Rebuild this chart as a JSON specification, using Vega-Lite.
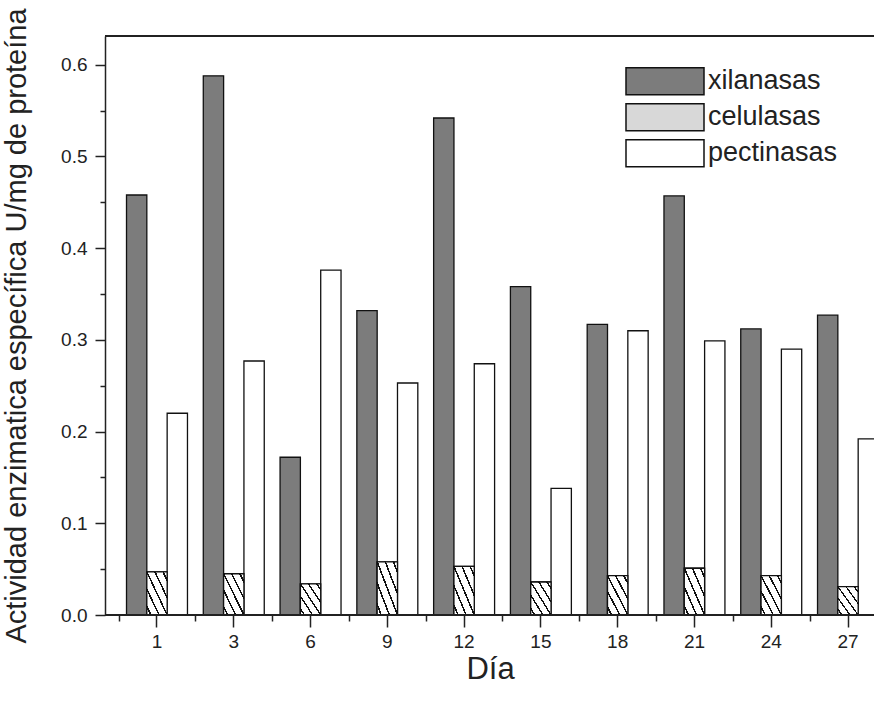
{
  "$schema": "https://vega.github.io/schema/vega-lite/v6.json",
  "width": 769,
  "height": 579,
  "autosize": "none",
  "padding": {"left": 105, "top": 36, "right": 0, "bottom": 86},
  "background": "white",
  "config": {
    "view": {"stroke": null},
    "font": "Liberation Sans",
    "axis": {"labelColor": "#222", "titleColor": "#222", "tickColor": "#222", "domainColor": "#222", "labelFont": "Liberation Sans", "titleFont": "Liberation Sans", "titleFontWeight": "normal", "grid": false}
  },
  "data": {
    "values": [
      {"day": 1, "enzyme": "xilanasas", "value": 0.458},
      {"day": 1, "enzyme": "celulasas", "value": 0.047},
      {"day": 1, "enzyme": "pectinasas", "value": 0.220},
      {"day": 3, "enzyme": "xilanasas", "value": 0.588},
      {"day": 3, "enzyme": "celulasas", "value": 0.045},
      {"day": 3, "enzyme": "pectinasas", "value": 0.277},
      {"day": 6, "enzyme": "xilanasas", "value": 0.172},
      {"day": 6, "enzyme": "celulasas", "value": 0.034},
      {"day": 6, "enzyme": "pectinasas", "value": 0.376},
      {"day": 9, "enzyme": "xilanasas", "value": 0.332},
      {"day": 9, "enzyme": "celulasas", "value": 0.058},
      {"day": 9, "enzyme": "pectinasas", "value": 0.253},
      {"day": 12, "enzyme": "xilanasas", "value": 0.542},
      {"day": 12, "enzyme": "celulasas", "value": 0.053},
      {"day": 12, "enzyme": "pectinasas", "value": 0.274},
      {"day": 15, "enzyme": "xilanasas", "value": 0.358},
      {"day": 15, "enzyme": "celulasas", "value": 0.036},
      {"day": 15, "enzyme": "pectinasas", "value": 0.138},
      {"day": 18, "enzyme": "xilanasas", "value": 0.317},
      {"day": 18, "enzyme": "celulasas", "value": 0.043},
      {"day": 18, "enzyme": "pectinasas", "value": 0.310},
      {"day": 21, "enzyme": "xilanasas", "value": 0.457},
      {"day": 21, "enzyme": "celulasas", "value": 0.051},
      {"day": 21, "enzyme": "pectinasas", "value": 0.299},
      {"day": 24, "enzyme": "xilanasas", "value": 0.312},
      {"day": 24, "enzyme": "celulasas", "value": 0.043},
      {"day": 24, "enzyme": "pectinasas", "value": 0.290},
      {"day": 27, "enzyme": "xilanasas", "value": 0.327},
      {"day": 27, "enzyme": "celulasas", "value": 0.031},
      {"day": 27, "enzyme": "pectinasas", "value": 0.192}
    ]
  },
  "layer": [
    {
      "mark": {"type": "bar", "stroke": "#111", "strokeWidth": 1.3, "clip": true},
      "encoding": {
        "x": {
          "field": "day", "type": "ordinal",
          "scale": {"range": [13.6, 781.4], "paddingInner": 0.206, "paddingOuter": 0.103},
          "axis": {"orient": "bottom", "title": "Día", "titleFontSize": 31, "titlePadding": 3, "titleX": 385, "labelFontSize": 19, "labelAngle": 0, "labelPadding": 5, "tickSize": 12, "tickWidth": 1.5, "domain": false}
        },
        "xOffset": {
          "field": "enzyme", "type": "nominal",
          "sort": ["xilanasas", "celulasas", "pectinasas"],
          "scale": {"paddingInner": 0, "paddingOuter": 0}
        },
        "y": {
          "field": "value", "type": "quantitative",
          "scale": {"domain": [0, 0.6314], "nice": false},
          "axis": {
            "title": "Actividad enzimatica específica U/mg de proteína",
            "titleFontSize": 29, "titlePadding": 29,
            "values": [0, 0.05, 0.1, 0.15, 0.2, 0.25, 0.3, 0.35, 0.4, 0.45, 0.5, 0.55, 0.6],
            "labelExpr": "round(datum.value*100) % 10 == 0 ? format(datum.value, '.1f') : ''",
            "labelFontSize": 19, "labelPadding": 8,
            "tickSize": {"expr": "round(datum.value*100) % 10 == 0 ? 10 : 5"},
            "tickWidth": 1.5, "domainWidth": 1.5
          }
        },
        "fill": {
          "field": "enzyme", "type": "nominal",
          "sort": ["xilanasas", "celulasas", "pectinasas"],
          "scale": {
            "domain": ["xilanasas", "celulasas", "pectinasas"],
            "range": ["#7c7c7c", "#d8d8d8", "#ffffff"]
          },
          "legend": {
            "orient": "none", "legendX": 545.5, "legendY": 30.7, "title": null,
            "symbolType": "M-2.889,-1H2.889V1H-2.889Z", "symbolSize": 729,
            "symbolStrokeColor": "#111", "symbolStrokeWidth": 1.5, "symbolOpacity": 1,
            "labelFontSize": 27, "labelFont": "Liberation Sans", "labelColor": "#222", "labelOffset": 28.5, "rowPadding": 3
          }
        }
      }
    },
    {
      "transform": [{"filter": "datum.enzyme == 'celulasas'"}],
      "mark": {"type": "bar", "stroke": "#111", "strokeWidth": 1.3, "clip": true,
        "fill": {"gradient": "linear", "x1": 0, "y1": 1, "x2": 1, "y2": 0, "stops": [
          {"offset": 0, "color": "#ffffff"},
          {"offset": 0.08, "color": "#ffffff"}, {"offset": 0.08, "color": "#111111"}, {"offset": 0.12, "color": "#111111"}, {"offset": 0.12, "color": "#ffffff"},
          {"offset": 0.28, "color": "#ffffff"}, {"offset": 0.28, "color": "#111111"}, {"offset": 0.32, "color": "#111111"}, {"offset": 0.32, "color": "#ffffff"},
          {"offset": 0.48, "color": "#ffffff"}, {"offset": 0.48, "color": "#111111"}, {"offset": 0.52, "color": "#111111"}, {"offset": 0.52, "color": "#ffffff"},
          {"offset": 0.68, "color": "#ffffff"}, {"offset": 0.68, "color": "#111111"}, {"offset": 0.72, "color": "#111111"}, {"offset": 0.72, "color": "#ffffff"},
          {"offset": 0.88, "color": "#ffffff"}, {"offset": 0.88, "color": "#111111"}, {"offset": 0.92, "color": "#111111"}, {"offset": 0.92, "color": "#ffffff"},
          {"offset": 1, "color": "#ffffff"}
        ]}
      },
      "encoding": {
        "x": {
          "field": "day", "type": "ordinal",
          "axis": {"orient": "bottom", "title": null, "labels": false, "domain": false, "tickSize": 6, "tickWidth": 1.5, "tickOffset": -38.39}
        },
        "xOffset": {
          "field": "enzyme", "type": "nominal",
          "sort": ["xilanasas", "celulasas", "pectinasas"]
        },
        "y": {"field": "value", "type": "quantitative"}
      }
    },
    {
      "mark": {"type": "rule", "color": "#222", "strokeWidth": 1.5},
      "encoding": {"y": {"datum": 0}}
    },
    {
      "mark": {"type": "rule", "color": "#222", "strokeWidth": 1.5},
      "encoding": {"y": {"datum": 0.6314}}
    }
  ],
  "resolve": {"axis": {"x": "independent"}}
}
